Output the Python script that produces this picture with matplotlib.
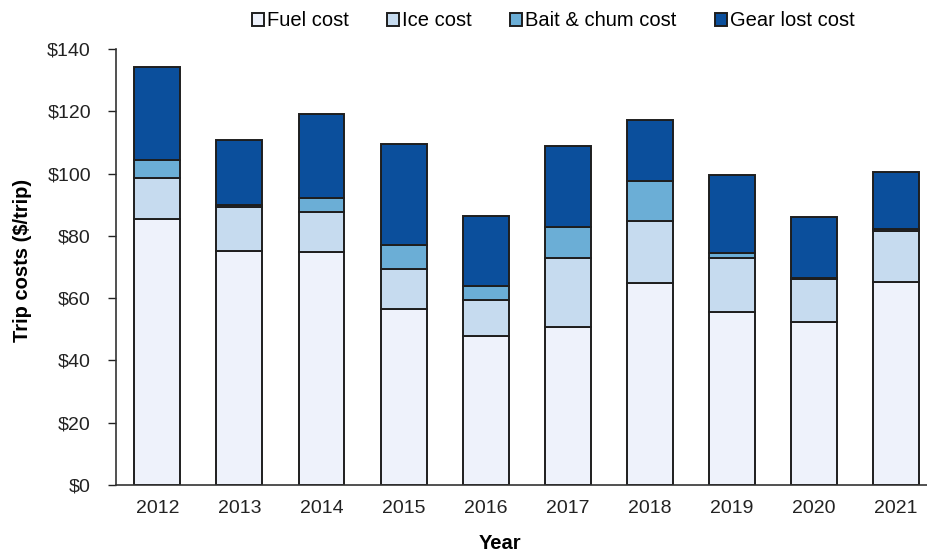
import matplotlib
matplotlib.use("Agg")
import matplotlib.pyplot as plt
import numpy as np

years = ["2012", "2013", "2014", "2015", "2016", "2017", "2018", "2019", "2020", "2021"]
fuel = [85.3, 75.3, 74.8, 56.5, 47.8, 50.8, 64.8, 55.7, 52.3, 65.1]
ice = [13.2, 13.9, 12.8, 12.9, 11.7, 22.2, 20.1, 17.3, 14.0, 16.6]
bait = [5.8, 0.9, 4.5, 7.7, 4.3, 10.0, 12.9, 1.5, 0.3, 0.7]
gear = [29.9, 20.8, 27.0, 32.4, 22.6, 26.0, 19.5, 25.0, 19.6, 18.3]

series = [("Fuel cost", fuel, "#EEF2FB"),
          ("Ice cost", ice, "#C6DBEF"),
          ("Bait & chum cost", bait, "#6BAED6"),
          ("Gear lost cost", gear, "#0B4F9C")]

plt.rcParams['font.family'] = ['Liberation Sans', 'DejaVu Sans']
fig = plt.figure(figsize=(9.27, 5.58), dpi=100)
ax = fig.add_axes([0.125, 0.1308, 0.875, 0.781])

x = np.arange(len(years))
bottom = np.zeros(len(years))
handles = []
for name, vals, col in series:
    b = ax.bar(x, vals, 0.56, bottom=bottom, color=col, edgecolor="#1e1e1e",
               linewidth=1.4, label=name)
    bottom += np.array(vals)
    handles.append(b)

ax.set_ylim(0, 140)
ax.set_xlim(-0.506, 9.38)
ax.set_yticks(range(0, 141, 20))
ax.set_yticklabels([f"${v}" for v in range(0, 141, 20)])
ax.set_xticks(x)
ax.set_xticklabels(years)
ax.tick_params(axis="y", labelsize=14, length=6, width=1, pad=12, colors="#222222")
ax.tick_params(axis="x", labelsize=14, length=0, pad=11, colors="#222222")
for s in ["top", "right"]:
    ax.spines[s].set_visible(False)
for s in ["left", "bottom"]:
    ax.spines[s].set_linewidth(1.2)
    ax.spines[s].set_color("#333333")

ax.set_ylabel("Trip costs ($/trip)", fontsize=14.5, fontweight="bold", labelpad=9)
ax.set_xlabel("Year", fontsize=14.5, fontweight="bold", labelpad=8)
ax.xaxis.set_label_coords(0.473, -0.112)
ax.yaxis.set_label_coords(-0.104, 0.515)

leg = fig.legend(handles=handles, loc="upper center", bbox_to_anchor=(0.597, 1.012),
                 ncol=4, frameon=False, fontsize=14.5, handlelength=0.6,
                 handleheight=0.6, handletextpad=0.15, columnspacing=1.9)

fig.savefig("out.png", dpi=100)
